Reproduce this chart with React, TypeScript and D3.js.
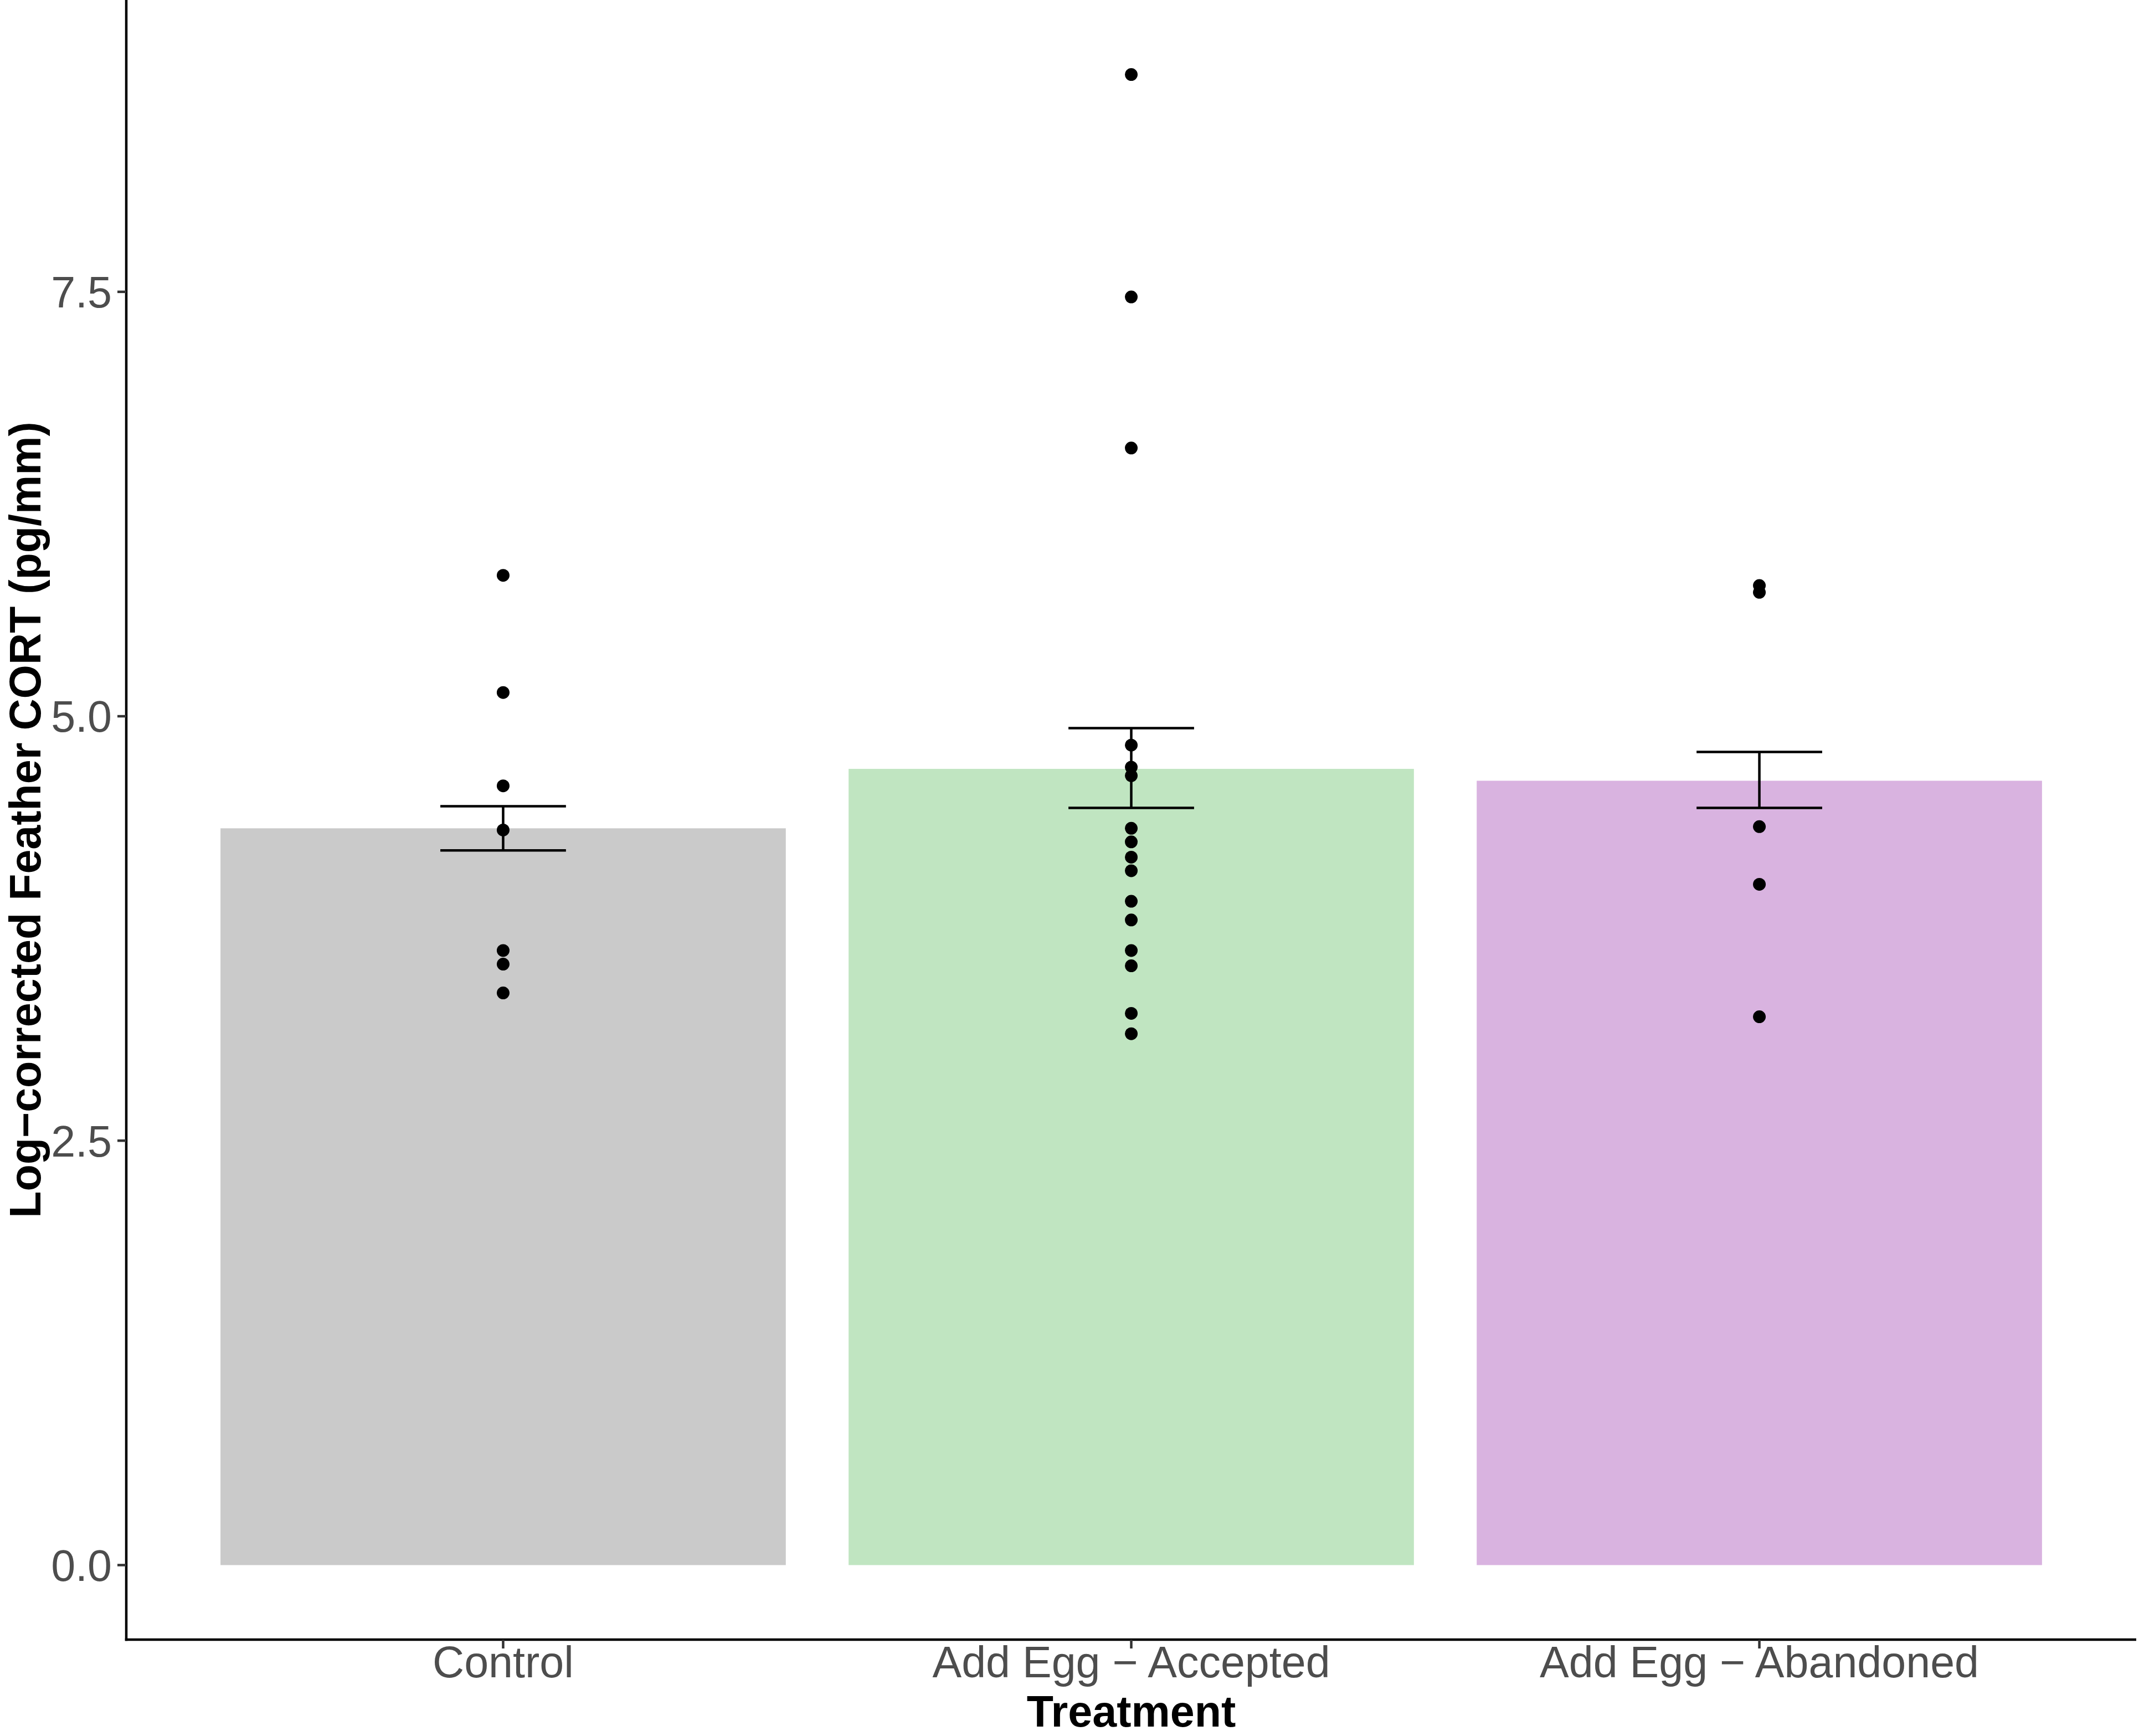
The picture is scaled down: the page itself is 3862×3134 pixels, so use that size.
import * as d3 from 'd3';

const categories = ['Control', 'Add Egg − Accepted', 'Add Egg − Abandoned'];
const barMeans = [4.34, 4.69, 4.62];
const errLow = [4.21, 4.46, 4.46];
const errHigh = [4.47, 4.93, 4.79];
const barColors = ['#cacaca', '#c0e5c1', '#d9b3e0'];

const controlPoints = [5.83, 5.14, 4.59, 4.33, 3.62, 3.54, 3.37];
const acceptedPoints = [
	8.78, 7.47, 6.58, 4.83, 4.7, 4.65, 4.34, 4.26, 4.17, 4.09, 3.91, 3.8, 3.62, 3.53, 3.25, 3.13,
];
const abandonedPoints = [5.77, 5.73, 4.35, 4.01, 3.23];
const groupPoints = [controlPoints, acceptedPoints, abandonedPoints];

const yTicks = [0, 2.5, 5, 7.5];

const svgWidth = 3862,
	svgHeight = 3134;
const panel = { left: 228, right: 3857, top: 0, bottom: 2960 };
const font = '"Liberation Sans", Arial, sans-serif';
const fontSize = 79;

export default function App() {
	const maxVal = d3.max(groupPoints.flat())!;
	const yScale = d3
		.scaleLinear()
		.domain([-0.05 * maxVal, 1.05 * maxVal])
		.range([panel.bottom, panel.top]);
	const xScale = d3
		.scaleBand<string>()
		.domain(categories)
		.range([panel.left, panel.right])
		.paddingInner(0.1)
		.paddingOuter(0.15);
	const step = xScale.step();
	const center = (c: string) => xScale(c)! + xScale.bandwidth() / 2;
	const errHalf = step * 0.1;

	return (
		<svg
			width={svgWidth}
			height={svgHeight}
			viewBox={`0 0 ${svgWidth} ${svgHeight}`}
			style={{ position: 'absolute', left: 0, top: 0, background: 'white' }}
			fontFamily={font}
		>
			<rect width={svgWidth} height={svgHeight} fill="white" />
			{/* bars */}
			{categories.map((c, i) => (
				<rect
					key={c}
					x={xScale(c)}
					width={xScale.bandwidth()}
					y={yScale(barMeans[i])}
					height={yScale(0) - yScale(barMeans[i])}
					fill={barColors[i]}
				/>
			))}
			{/* error bars */}
			{categories.map((c, i) => (
				<g key={c} stroke="black" strokeWidth={4.5}>
					<line x1={center(c)} x2={center(c)} y1={yScale(errLow[i])} y2={yScale(errHigh[i])} />
					<line
						x1={center(c) - errHalf}
						x2={center(c) + errHalf}
						y1={yScale(errLow[i])}
						y2={yScale(errLow[i])}
					/>
					<line
						x1={center(c) - errHalf}
						x2={center(c) + errHalf}
						y1={yScale(errHigh[i])}
						y2={yScale(errHigh[i])}
					/>
				</g>
			))}
			{/* points */}
			{categories.map((c, i) =>
				groupPoints[i].map((v, j) => (
					<circle key={`${c}-${j}`} cx={center(c)} cy={yScale(v)} r={11.5} fill="black" />
				))
			)}
			{/* left axis */}
			<g>
				<line
					x1={panel.left}
					x2={panel.left}
					y1={panel.top}
					y2={panel.bottom + 2.25}
					stroke="black"
					strokeWidth={4.5}
				/>
				{yTicks.map((t) => (
					<g key={t} transform={`translate(${panel.left}, ${yScale(t)})`}>
						<line x1={-16} x2={0} stroke="#333333" strokeWidth={4.5} />
						<text
							x={-26}
							y={fontSize * 0.358}
							textAnchor="end"
							fontSize={fontSize}
							fill="#4d4d4d"
						>
							{t.toFixed(1)}
						</text>
					</g>
				))}
				<text
					transform={`translate(73, ${(panel.top + panel.bottom) / 2}) rotate(-90)`}
					textAnchor="middle"
					fontSize={fontSize}
					fontWeight="bold"
					fill="black"
				>
					Log−corrected Feather CORT (pg/mm)
				</text>
			</g>
			{/* bottom axis */}
			<g>
				<line
					x1={panel.left - 2.25}
					x2={panel.right}
					y1={panel.bottom}
					y2={panel.bottom}
					stroke="black"
					strokeWidth={4.5}
				/>
				{categories.map((c) => (
					<g key={c} transform={`translate(${center(c)}, ${panel.bottom})`}>
						<line y1={0} y2={16} stroke="#333333" strokeWidth={4.5} />
						<text y={68} textAnchor="middle" fontSize={fontSize} fill="#4d4d4d">
							{c}
						</text>
					</g>
				))}
				<text
					x={(panel.left + panel.right) / 2}
					y={3117}
					textAnchor="middle"
					fontSize={fontSize}
					fontWeight="bold"
					fill="black"
				>
					Treatment
				</text>
			</g>
		</svg>
	);
}
